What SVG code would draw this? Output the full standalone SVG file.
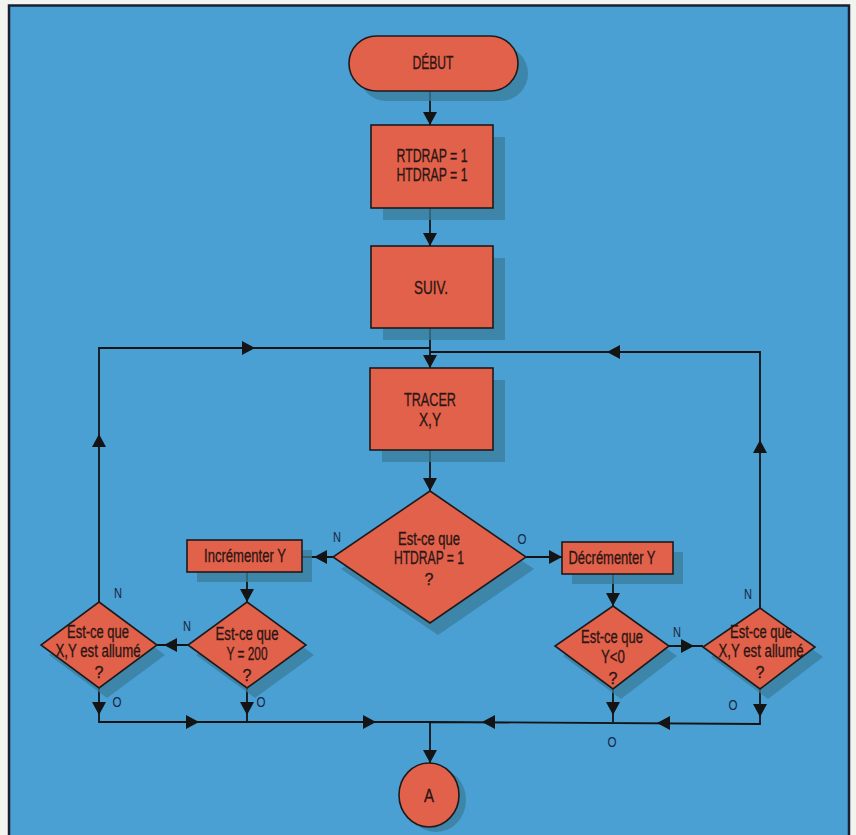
<svg xmlns="http://www.w3.org/2000/svg" xmlns:xlink="http://www.w3.org/1999/xlink" width="856" height="835" viewBox="0 0 856 835">
<style>
.node{fill:#e2614b;stroke:#1e1a1a;stroke-width:1.6}
.shadow{fill:#3a7e9c;opacity:0.75}
.t{font-family:"Liberation Sans Narrow","Liberation Sans",sans-serif;font-size:17.5px;fill:#2a1614;stroke:#2a1614;stroke-width:0.3;text-anchor:middle}
.q{font-size:16px}
.lbl{font-family:"Liberation Sans Narrow","Liberation Sans",sans-serif;font-size:15px;fill:#1a2540;text-anchor:middle}
.ln{fill:none;stroke:#141414;stroke-width:1.8}
.ah{fill:#141414}
</style>
<defs>
<path id="ah" d="M0,0 L-13,-7 L-13,7 Z"/>
</defs>
<rect x="0" y="0" width="856" height="835" fill="#f3f3f0"/>
<rect x="9" y="5.5" width="840" height="845" fill="#4a9fd3" stroke="#1a2030" stroke-width="2.5"/>

<g id="connectors">
<path class="ln" d="M430,91 V125 M430,208 V246 M430,328 V368 M430,450 V491"/>
<path class="ln" d="M333,557 H302 M526,557 H562 M247,572 V602 M613,574 V606"/>
<path class="ln" d="M188,645 H157 M669,646 H703"/>
<path class="ln" d="M99,602 V348 H430 M760,608 V352 H430"/>
<path class="ln" d="M99,688 V722 H430 M247,688 V722 M613,689 V722 M760,689 V724 L430,722 M430,722 V763"/>
<g class="ah">
<use xlink:href="#ah" transform="translate(430,125) rotate(90)"/>
<use xlink:href="#ah" transform="translate(430,246) rotate(90)"/>
<use xlink:href="#ah" transform="translate(430,368) rotate(90)"/>
<use xlink:href="#ah" transform="translate(430,491) rotate(90)"/>
<use xlink:href="#ah" transform="translate(314,557) rotate(180)"/>
<use xlink:href="#ah" transform="translate(562,557)"/>
<use xlink:href="#ah" transform="translate(247,602) rotate(90)"/>
<use xlink:href="#ah" transform="translate(613,606) rotate(90)"/>
<use xlink:href="#ah" transform="translate(164,645) rotate(180)"/>
<use xlink:href="#ah" transform="translate(694,646)"/>
<use xlink:href="#ah" transform="translate(99,434) rotate(-90)"/>
<use xlink:href="#ah" transform="translate(255,348)"/>
<use xlink:href="#ah" transform="translate(760,440) rotate(-90)"/>
<use xlink:href="#ah" transform="translate(607,352) rotate(180)"/>
<use xlink:href="#ah" transform="translate(99,715) rotate(90)"/>
<use xlink:href="#ah" transform="translate(247,715) rotate(90)"/>
<use xlink:href="#ah" transform="translate(613,715) rotate(90)"/>
<use xlink:href="#ah" transform="translate(760,717) rotate(90)"/>
<use xlink:href="#ah" transform="translate(199,722)"/>
<use xlink:href="#ah" transform="translate(376,722)"/>
<use xlink:href="#ah" transform="translate(482,722) rotate(180)"/>
<use xlink:href="#ah" transform="translate(657,723) rotate(180)"/>
<use xlink:href="#ah" transform="translate(430,763) rotate(90)"/>
</g>
<g class="lbl">
<text x="337" y="542" textLength="8" lengthAdjust="spacingAndGlyphs">N</text>
<text x="522" y="544" textLength="9" lengthAdjust="spacingAndGlyphs">O</text>
<text x="118" y="598" textLength="8" lengthAdjust="spacingAndGlyphs">N</text>
<text x="187" y="631" textLength="8" lengthAdjust="spacingAndGlyphs">N</text>
<text x="117" y="707" textLength="9" lengthAdjust="spacingAndGlyphs">O</text>
<text x="261" y="707" textLength="9" lengthAdjust="spacingAndGlyphs">O</text>
<text x="677" y="637" textLength="8" lengthAdjust="spacingAndGlyphs">N</text>
<text x="748" y="599" textLength="8" lengthAdjust="spacingAndGlyphs">N</text>
<text x="733" y="710" textLength="9" lengthAdjust="spacingAndGlyphs">O</text>
<text x="612" y="747" textLength="9" lengthAdjust="spacingAndGlyphs">O</text>
</g>
</g>

<g id="debut">
<rect class="shadow" x="359" y="46" width="169" height="55" rx="27.5"/>
<rect class="node" x="349" y="36" width="169" height="55" rx="27.5"/>
<text class="t" x="433" y="69" textLength="41" lengthAdjust="spacingAndGlyphs">DÉBUT</text>
</g>
<g id="init">
<rect class="shadow" x="383" y="137" width="122" height="83"/>
<rect class="node" x="371" y="125" width="122" height="83"/>
<text class="t" x="432" y="162" textLength="71" lengthAdjust="spacingAndGlyphs">RTDRAP = 1</text>
<text class="t" x="432" y="181" textLength="71" lengthAdjust="spacingAndGlyphs">HTDRAP = 1</text>
</g>
<g id="suiv">
<rect class="shadow" x="383" y="258" width="122" height="82"/>
<rect class="node" x="371" y="246" width="122" height="82"/>
<text class="t" x="431" y="294" textLength="34" lengthAdjust="spacingAndGlyphs">SUIV.</text>
</g>
<g id="tracer">
<rect class="shadow" x="382" y="380" width="123" height="82"/>
<rect class="node" x="370" y="368" width="123" height="82"/>
<text class="t" x="430" y="406" textLength="52" lengthAdjust="spacingAndGlyphs">TRACER</text>
<text class="t" x="430" y="426" textLength="22" lengthAdjust="spacingAndGlyphs">X,Y</text>
</g>
<g id="test-htdrap">
<polygon class="shadow" points="438,503 534,569 438,635 341,569"/>
<polygon class="node" points="430,491 526,557 430,623 333,557"/>
<text class="t" x="429" y="545" textLength="62" lengthAdjust="spacingAndGlyphs">Est-ce que</text>
<text class="t" x="429" y="564" textLength="70" lengthAdjust="spacingAndGlyphs">HTDRAP = 1</text>
<text class="t q" x="429" y="585">?</text>
</g>
<g id="incr">
<rect class="shadow" x="197" y="550" width="115" height="32"/>
<rect class="node" x="187" y="540" width="115" height="32"/>
<text class="t" x="245" y="562" textLength="82" lengthAdjust="spacingAndGlyphs">Incrémenter Y</text>
</g>
<g id="decr">
<rect class="shadow" x="572" y="552" width="111" height="32"/>
<rect class="node" x="562" y="542" width="111" height="32"/>
<text class="t" x="612" y="564" textLength="87" lengthAdjust="spacingAndGlyphs">Décrémenter Y</text>
</g>
<g id="test-y200">
<polygon class="shadow" points="255,612 314,655 255,698 196,655"/>
<polygon class="node" points="247,602 306,645 247,688 188,645"/>
<text class="t" x="247" y="640" textLength="63" lengthAdjust="spacingAndGlyphs">Est-ce que</text>
<text class="t" x="247" y="660" textLength="41" lengthAdjust="spacingAndGlyphs">Y = 200</text>
<text class="t q" x="247" y="681">?</text>
</g>
<g id="test-allume-g">
<polygon class="shadow" points="107,612 165,655 107,698 49,655"/>
<polygon class="node" points="99,602 157,645 99,688 41,645"/>
<text class="t" x="98" y="638" textLength="62" lengthAdjust="spacingAndGlyphs">Est-ce que</text>
<text class="t" x="98" y="657" textLength="85" lengthAdjust="spacingAndGlyphs">X,Y est allumé</text>
<text class="t q" x="99" y="678">?</text>
</g>
<g id="test-y0">
<polygon class="shadow" points="621,616 677,656 621,699 563,656"/>
<polygon class="node" points="613,606 669,646 613,689 555,646"/>
<text class="t" x="612" y="643" textLength="62" lengthAdjust="spacingAndGlyphs">Est-ce que</text>
<text class="t" x="613" y="663" textLength="24" lengthAdjust="spacingAndGlyphs">Y&lt;0</text>
<text class="t q" x="613" y="684">?</text>
</g>
<g id="test-allume-d">
<polygon class="shadow" points="768,618 823,657 768,699 711,657"/>
<polygon class="node" points="760,608 815,647 760,689 703,647"/>
<text class="t" x="761" y="638" textLength="62" lengthAdjust="spacingAndGlyphs">Est-ce que</text>
<text class="t" x="761" y="657" textLength="85" lengthAdjust="spacingAndGlyphs">X,Y est allumé</text>
<text class="t q" x="760" y="678">?</text>
</g>
<g id="connecteur-a">
<ellipse class="shadow" cx="436" cy="800" rx="30" ry="32"/>
<ellipse class="node" cx="429" cy="795" rx="30" ry="32"/>
<text class="t" x="429" y="802" textLength="10" lengthAdjust="spacingAndGlyphs">A</text>
</g>
</svg>
